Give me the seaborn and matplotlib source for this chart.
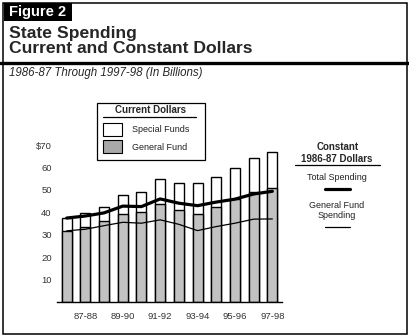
import matplotlib
matplotlib.use("Agg")
import matplotlib.pyplot as plt
import seaborn as sns
import pandas as pd
from matplotlib.patches import Rectangle
from matplotlib.lines import Line2D

years = ["86-87", "87-88", "88-89", "89-90", "90-91", "91-92",
         "92-93", "93-94", "94-95", "95-96", "96-97", "97-98"]
total_current = [37.4, 39.6, 42.3, 47.7, 49.0, 54.8, 53.0, 53.0, 55.7, 59.7, 64.1, 66.8]
general_current = [31.6, 33.4, 36.1, 39.5, 40.4, 43.6, 41.1, 39.2, 42.3, 45.9, 49.1, 50.8]
total_constant = [37.5, 38.4, 39.8, 42.8, 42.6, 46.0, 44.1, 43.0, 44.6, 45.9, 48.2, 49.4]
general_constant = [31.8, 32.5, 34.1, 35.6, 35.2, 36.7, 34.7, 31.9, 33.7, 35.2, 37.0, 37.1]
yticks = [10, 20, 30, 40, 50, 60, 70]
ytick_labels = ["10", "20", "30", "40", "50", "60", "$70"]

df = pd.DataFrame({"year": years, "total": total_current, "general": general_current,
                   "ctotal": total_constant, "cgeneral": general_constant})

sns.set_style("white")
plt.rcParams["font.family"] = ["Liberation Sans", "DejaVu Sans"]

W, H = 410, 336
fig = plt.figure(figsize=(W / 100, H / 100), dpi=100)

def fx(x):
    return x / W

def fy(y):
    return 1 - y / H

# axes placement
ax_l, ax_r, ax_b, ax_t = 57.3, 281.7, 302.3, 145.0
ax = fig.add_axes([fx(ax_l), fy(ax_b), (ax_r - ax_l) / W, (ax_b - ax_t) / H])

bw = 0.54
sns.barplot(data=df, x="year", y="total", color="white", edgecolor="black",
            linewidth=1.0, width=bw, ax=ax, saturation=1)
sns.barplot(data=df, x="year", y="general", color="#c2c2c2", edgecolor="black",
            linewidth=1.0, width=bw, ax=ax, saturation=1)
df["pos"] = range(len(years))
sns.lineplot(data=df, x="pos", y="ctotal", color="black", linewidth=2.3, ax=ax)
sns.lineplot(data=df, x="pos", y="cgeneral", color="black", linewidth=0.9, ax=ax)

ax.set_xlim(-0.5, len(years) - 0.5)
ax.set_ylim(0, 70)
ax.set_xlabel("")
ax.set_ylabel("")
ax.set_yticks(yticks)
ax.set_yticklabels(ytick_labels, fontsize=6.8, color="#333333")
ax.set_xticks(range(1, len(years), 2))
ax.set_xticklabels(years[1::2], fontsize=6.8, color="#333333")
for s in ["top", "right", "left"]:
    ax.spines[s].set_visible(False)
ax.spines["bottom"].set_color("black")
ax.spines["bottom"].set_linewidth(1.0)
ax.tick_params(axis="y", length=3, width=0.8, color="black", pad=1)
ax.tick_params(axis="x", length=0, pad=7)

# outer frame
fig.patches.append(Rectangle((fx(3), fy(333.5)), (407.5 - 3) / W, (333.5 - 3) / H,
                             transform=fig.transFigure, fill=False,
                             edgecolor="black", linewidth=1.1))
# thick rule under title
fig.lines.append(Line2D([0, 1], [fy(62.5), fy(62.5)], transform=fig.transFigure,
                        color="black", linewidth=2.4))
# Figure 2 tag
fig.patches.append(Rectangle((fx(4), fy(21)), 68 / W, 18 / H, transform=fig.transFigure,
                             facecolor="black", edgecolor="none"))
fig.text(fx(9.5), fy(12.3), "Figure 2", color="white", fontsize=10.5, fontweight="bold",
         va="center", ha="left")
fig.text(fx(9), fy(33.5), "State Spending", fontsize=12.6, fontweight="bold",
         va="center", ha="left")
fig.text(fx(9), fy(48.5), "Current and Constant Dollars", fontsize=12.6, fontweight="bold",
         va="center", ha="left")
fig.text(fx(9), fy(73), "1986-87 Through 1997-98 (In Billions)", fontsize=8.3,
         style="italic", va="center", ha="left")

# current dollars legend box
fig.patches.append(Rectangle((fx(97), fy(160)), (205 - 97) / W, (160 - 103) / H,
                             transform=fig.transFigure, facecolor="white",
                             edgecolor="black", linewidth=0.9, zorder=5))
fig.text(fx(151), fy(110), "Current Dollars", fontsize=7, fontweight="bold",
         ha="center", va="center", zorder=6)
fig.lines.append(Line2D([fx(103), fx(196)], [fy(116.5), fy(116.5)], transform=fig.transFigure,
                        color="black", linewidth=0.9, zorder=6))
fig.patches.append(Rectangle((fx(103), fy(136)), 19 / W, 13 / H, transform=fig.transFigure,
                             facecolor="white", edgecolor="black", linewidth=0.8, zorder=6))
fig.patches.append(Rectangle((fx(103), fy(153)), 19 / W, 13 / H, transform=fig.transFigure,
                             facecolor="#a8a8a8", edgecolor="black", linewidth=0.8, zorder=6))
fig.text(fx(132), fy(130), "Special Funds", fontsize=6.5, ha="left", va="center",
         color="#222222", zorder=6)
fig.text(fx(132), fy(147), "General Fund", fontsize=6.5, ha="left", va="center",
         color="#222222", zorder=6)

# constant dollars legend
fig.text(fx(338), fy(146.5), "Constant", fontsize=7, fontweight="bold",
         ha="center", va="center")
fig.text(fx(337), fy(159.5), "1986-87 Dollars", fontsize=7, fontweight="bold",
         ha="center", va="center")
fig.lines.append(Line2D([fx(295), fx(380)], [fy(165), fy(165)], transform=fig.transFigure,
                        color="black", linewidth=0.9))
fig.text(fx(337), fy(177.5), "Total Spending", fontsize=6.5, ha="center", va="center",
         color="#222222")
fig.lines.append(Line2D([fx(325), fx(350)], [fy(189), fy(189)], transform=fig.transFigure,
                        color="black", linewidth=2.3))
fig.text(fx(337), fy(205), "General Fund", fontsize=6.5, ha="center", va="center",
         color="#222222")
fig.text(fx(337), fy(215.5), "Spending", fontsize=6.5, ha="center", va="center",
         color="#222222")
fig.lines.append(Line2D([fx(325), fx(350)], [fy(226.5), fy(226.5)], transform=fig.transFigure,
                        color="black", linewidth=0.9))

fig.savefig("out.png", dpi=100)
